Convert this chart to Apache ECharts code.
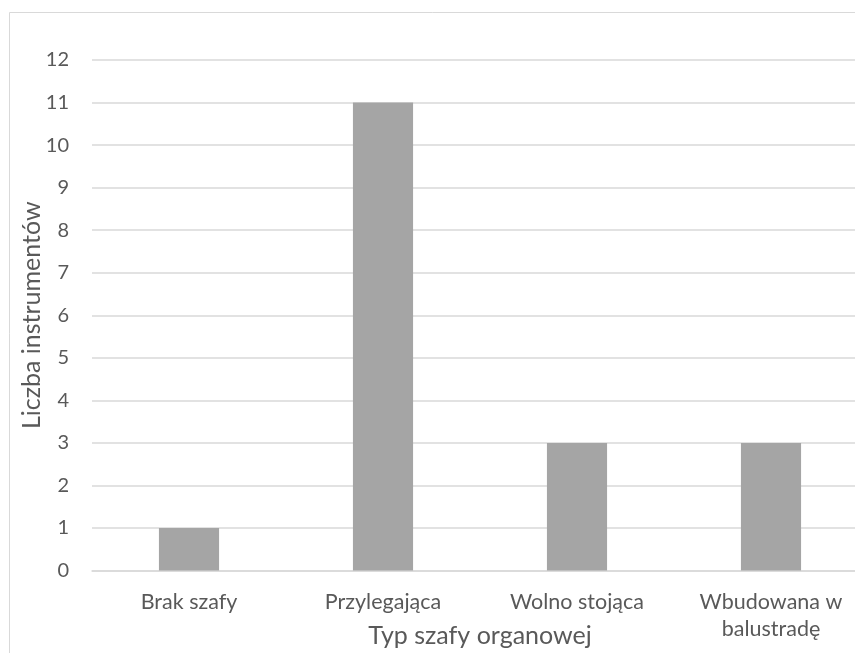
<!DOCTYPE html>
<html>
<head>
<meta charset="utf-8">
<script src="https://cdn.jsdelivr.net/npm/echarts@6/dist/echarts.min.js"></script>
<style>html,body{margin:0;padding:0;background:#fff}#c{width:855px;height:653px}</style>
</head>
<body>
<div id="c"></div>
<script>
const categories = ['Brak szafy', 'Przylegająca', 'Wolno stojąca', 'Wbudowana w\nbalustradę'];
const values = [1, 11, 3, 3];
const xTitle = 'Typ szafy organowej';
const yTitle = 'Liczba instrumentów';

const FONT = 'Lato';
const chart = echarts.init(document.getElementById('c'));
chart.setOption({
  animation: false,
  backgroundColor: '#fff',
  grid: { left: 92, top: 60, width: 776, bottom: 82.5, containLabel: false, outerBoundsMode: 'none' },
  graphic: [{
    type: 'rect', silent: true, z: -1,
    shape: { x: 9.5, y: 12.5, width: 1000, height: 1000 },
    style: { fill: 'none', stroke: '#d9d9d9', lineWidth: 1 }
  }],
  xAxis: {
    type: 'category', data: categories,
    axisLine: { lineStyle: { color: '#d9d9d9', width: 1.5 } },
    axisTick: { show: false },
    axisLabel: { color: '#595959', fontFamily: FONT, fontSize: 21.5, margin: 18, lineHeight: 27, interval: 0 },
    name: xTitle, nameLocation: 'middle', nameGap: 53, nameMoveOverlap: false,
    nameTextStyle: { color: '#595959', fontFamily: FONT, fontSize: 25 }
  },
  yAxis: {
    type: 'value', min: 0, max: 12, interval: 1,
    axisLine: { show: false }, axisTick: { show: false },
    splitLine: { lineStyle: { color: '#d9d9d9', width: 1.5 } },
    axisLabel: { color: '#595959', fontFamily: FONT, fontSize: 20, margin: 23 },
    name: yTitle, nameLocation: 'middle', nameGap: 48, nameRotate: 90, nameMoveOverlap: false,
    nameTextStyle: { color: '#595959', fontFamily: FONT, fontSize: 25 }
  },
  series: [{
    type: 'bar', data: values, barWidth: '31%',
    itemStyle: { color: '#a5a5a5' }
  }]
});
</script>
</body>
</html>
